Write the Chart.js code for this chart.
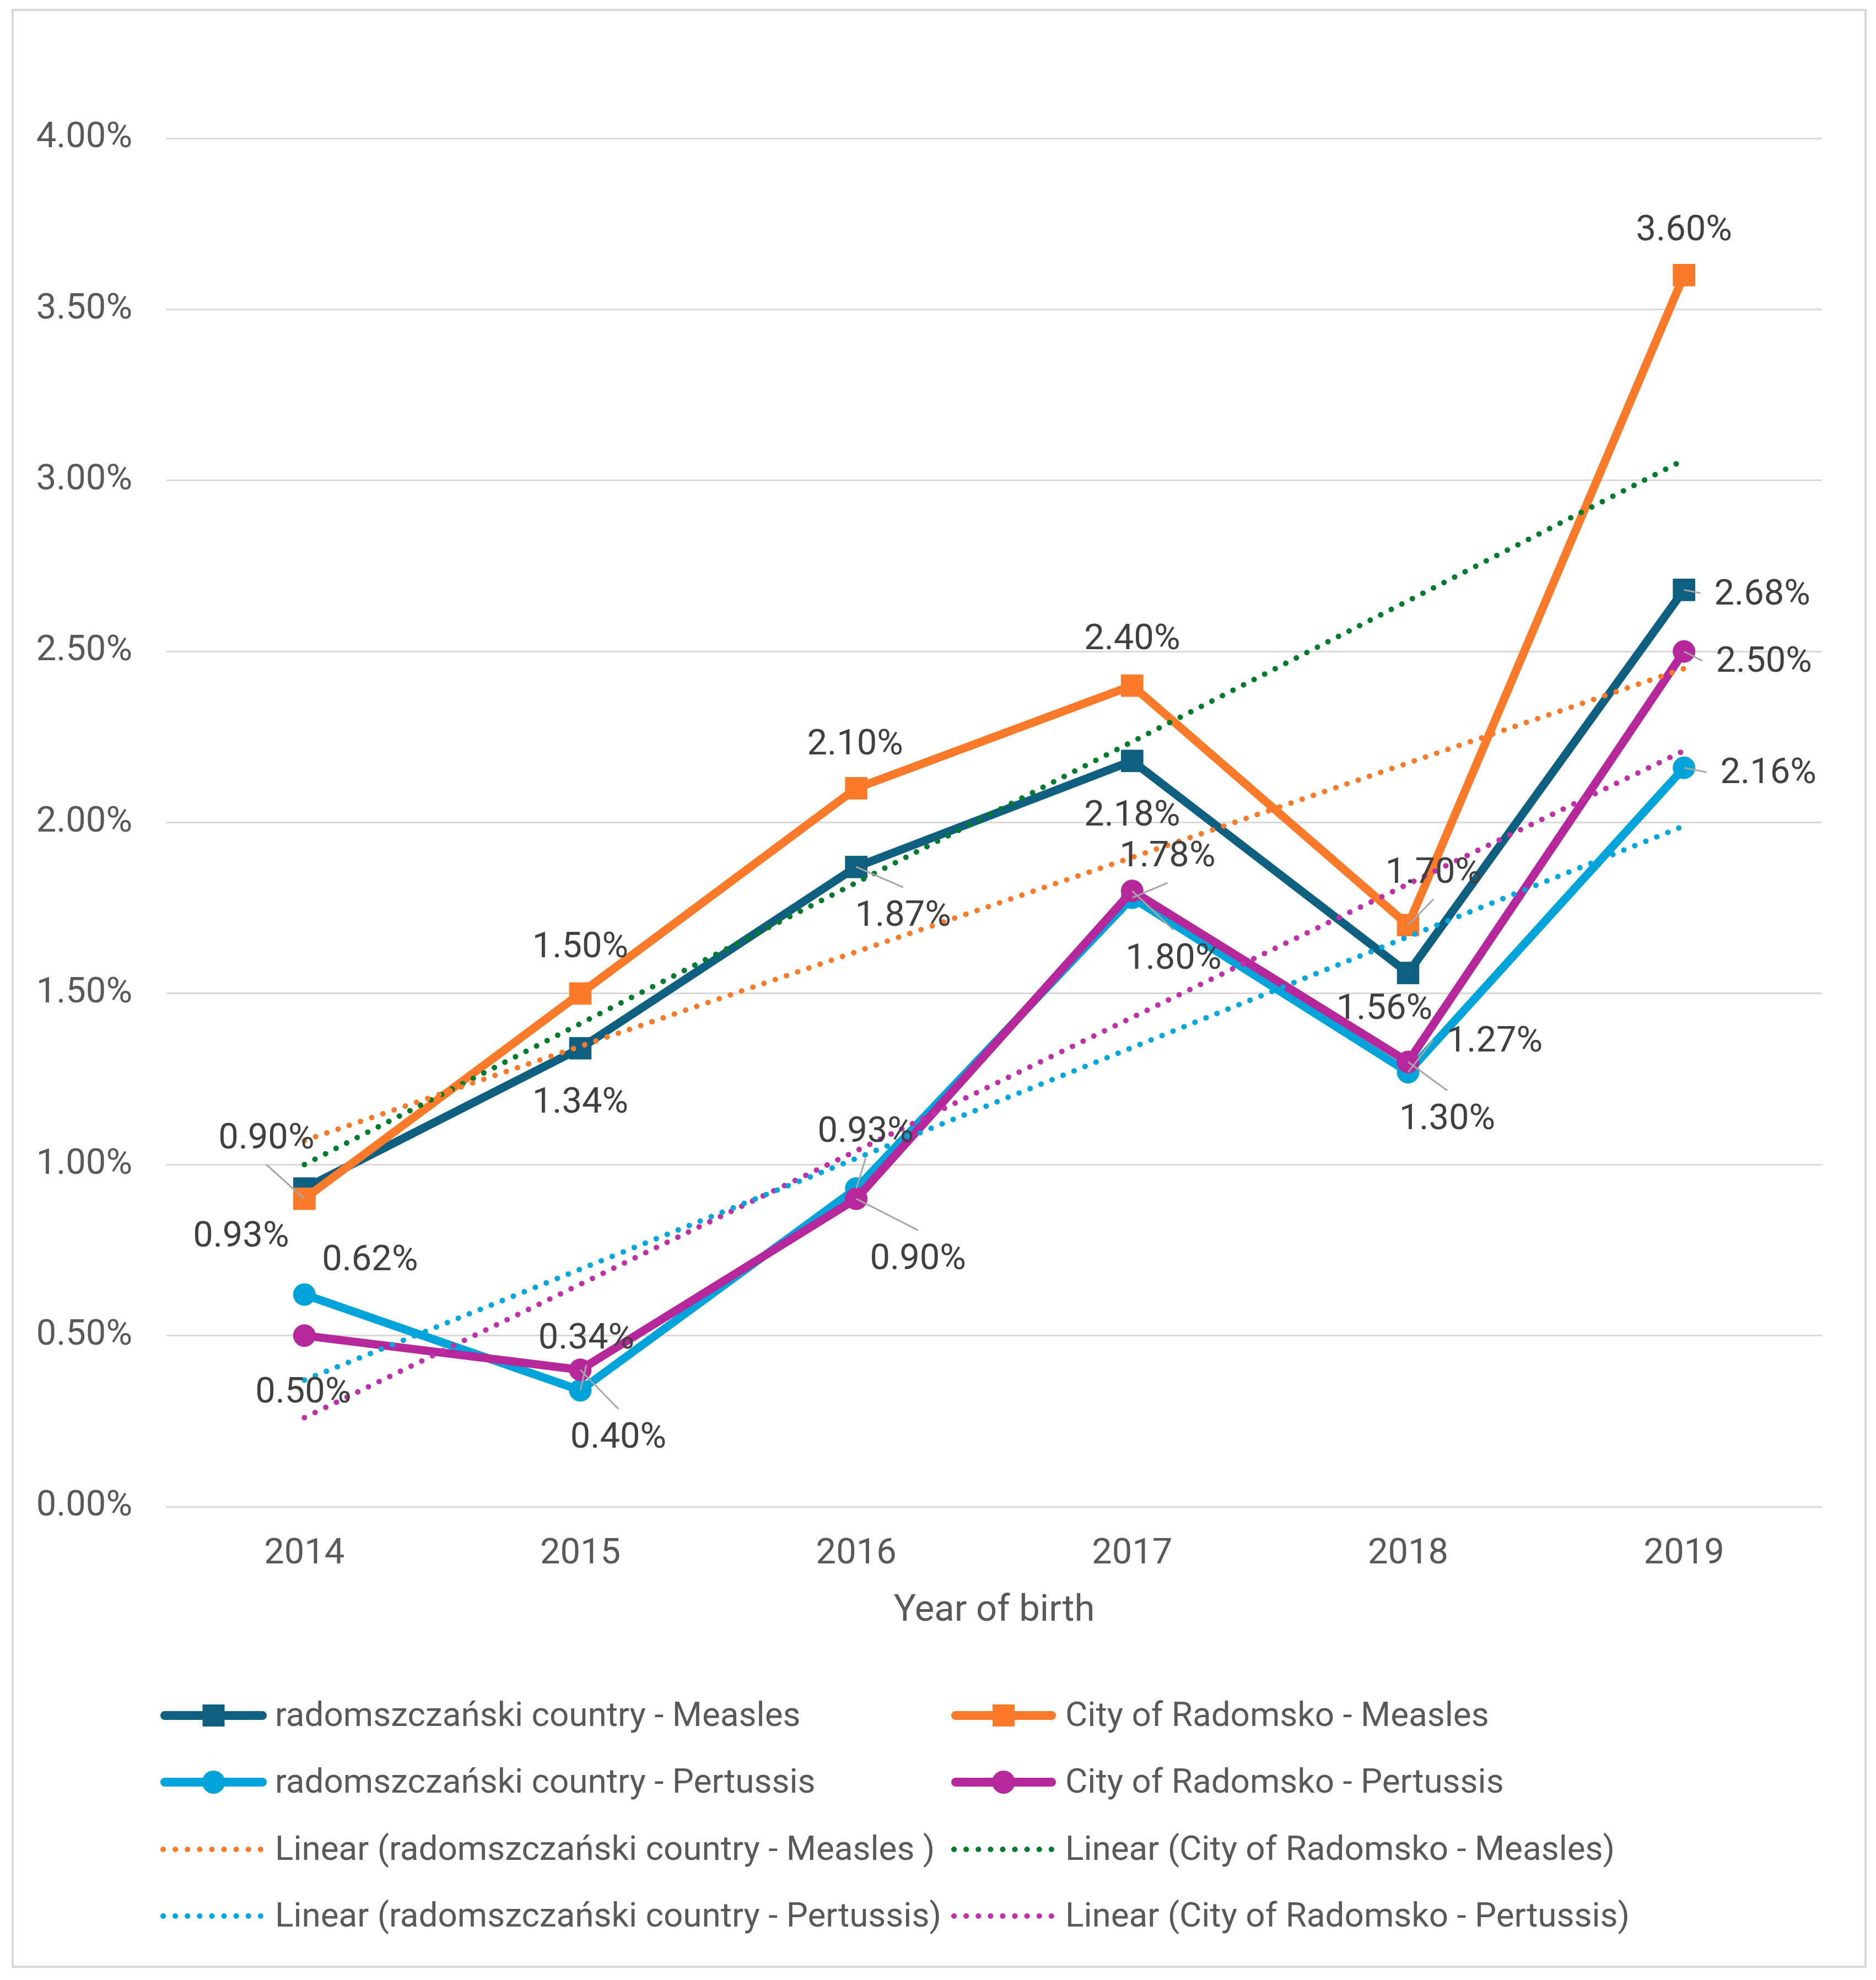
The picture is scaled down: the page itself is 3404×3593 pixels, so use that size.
<!DOCTYPE html>
<html>
<head>
<meta charset="utf-8">
<script src="https://cdn.jsdelivr.net/npm/chart.js@4.4.1/dist/chart.umd.min.js"></script>
<style>
html, body { margin: 0; padding: 0; background: #fff; }
#wrap { width: 3404px; height: 3593px; position: relative; }
</style>
</head>
<body>
<div id="wrap"><canvas id="lineChart"></canvas></div>
<script>
// Data
const years = ['2014', '2015', '2016', '2017', '2018', '2019'];
const radMeasles = [0.93, 1.34, 1.87, 2.18, 1.56, 2.68];
const cityMeasles = [0.90, 1.50, 2.10, 2.40, 1.70, 3.60];
const radPertussis = [0.62, 0.34, 0.93, 1.78, 1.27, 2.16];
const cityPertussis = [0.50, 0.40, 0.90, 1.80, 1.30, 2.50];
// trend lines: value at 2014 and at 2019
const trendRadMeasles = [1.07, 2.45];
const trendCityMeasles = [1.00, 3.06];
const trendRadPertussis = [0.37, 1.99];
const trendCityPertussis = [0.26, 2.21];
const yTicks = [0, 0.5, 1, 1.5, 2, 2.5, 3, 3.5, 4];

const names = [
    'radomszczański country - Measles',
    'City of Radomsko - Measles',
    'radomszczański country - Pertussis',
    'City of Radomsko - Pertussis',
    'Linear (radomszczański country - Measles )',
    'Linear (City of Radomsko - Measles)',
    'Linear (radomszczański country - Pertussis)',
    'Linear (City of Radomsko - Pertussis)'
];

// label placement per point: [dx, dy, leader side]
const labelOffsets = {
    [names[0]]: [[-115, 85, null], [0, 97, null], [85, 87, 'top'], [0, 97, null], [-43, 63, null], [142, 6, 'left']],
    [names[1]]: [[-69, -112, 'bottom'], [0, -86, null], [-2, -82, null], [0, -86, null], [46, -97, 'bottom'], [0, -84, null]],
    [names[2]]: [[119, -64, null], [11, -96, 'bottom'], [17, -105, 'bottom'], [64, -77, 'bottom'], [157, -58, 'left'], [153, 8, 'left']],
    [names[3]]: [[-2, 101, null], [69, 121, 'top'], [112, 107, 'top'], [75, 121, 'top'], [71, 102, 'top'], [145, 17, 'left']]
};

Chart.defaults.font.family = 'Roboto';

function mainSet(label, data, color, style, order) {
    return {
        label: label,
        data: data,
        borderColor: color,
        backgroundColor: color,
        borderWidth: 15,
        pointStyle: style,
        pointRadius: style === 'rect' ? 28 : 20,
        pointBorderWidth: 1,
        tension: 0,
        order: order
    };
}

function trendSet(label, ends, color) {
    return {
        label: label,
        data: [{ x: years[0], y: ends[0] }, { x: years[years.length - 1], y: ends[1] }],
        borderColor: color,
        backgroundColor: color,
        borderWidth: 10,
        borderDash: [0.1, 21.4],
        borderCapStyle: 'round',
        pointRadius: 0,
        order: 0,
        isTrend: true
    };
}

const frame = {
    id: 'frame',
    beforeDraw(chart) {
        const ctx = chart.ctx;
        ctx.save();
        ctx.fillStyle = '#fff';
        ctx.fillRect(0, 0, chart.width, chart.height);
        ctx.strokeStyle = '#d9d9d9';
        ctx.lineWidth = 4;
        ctx.strokeRect(23, 18, 3362, 3551);
        ctx.restore();
    }
};

const pointLabels = {
    id: 'pointLabels',
    afterDatasetsDraw(chart) {
        const ctx = chart.ctx;
        ctx.save();
        ctx.font = '65px Roboto';
        ctx.textAlign = 'center';
        ctx.textBaseline = 'middle';
        chart.data.datasets.forEach((ds, i) => {
            const offs = labelOffsets[ds.label];
            if (!offs) return;
            chart.getDatasetMeta(i).data.forEach((pt, j) => {
                const [dx, dy, side] = offs[j];
                const cx = pt.x + dx, cy = pt.y + dy;
                if (side) {
                    let ex = cx, ey = cy;
                    if (side === 'top') ey = cy - 50;
                    if (side === 'bottom') ey = cy + 50;
                    if (side === 'left') ex = cx - 112;
                    ctx.strokeStyle = '#a6a6a6';
                    ctx.lineWidth = 3;
                    ctx.beginPath();
                    ctx.moveTo(pt.x, pt.y);
                    ctx.lineTo(ex, ey);
                    ctx.stroke();
                }
                ctx.fillStyle = '#404040';
                ctx.fillText(ds.data[j].toFixed(2) + '%', cx, cy + 4);
            });
        });
        ctx.restore();
    }
};

const gridLegend = {
    id: 'gridLegend',
    afterDraw(chart) {
        const ctx = chart.ctx;
        const rows = [3113, 3234, 3356, 3477];
        const cols = [{ x0: 291, x1: 484, tx: 499 }, { x0: 1726, x1: 1916, tx: 1933 }];
        ctx.save();
        chart.data.datasets.forEach((ds, i) => {
            const y = rows[Math.floor(i / 2)];
            const c = cols[i % 2];
            ctx.strokeStyle = ds.borderColor;
            ctx.fillStyle = ds.borderColor;
            ctx.lineCap = 'round';
            if (ds.isTrend) {
                ctx.lineWidth = 10;
                ctx.setLineDash([0.1, 22]);
                ctx.beginPath();
                ctx.moveTo(c.x0 + 5, y);
                ctx.lineTo(c.x1 - 5, y);
                ctx.stroke();
                ctx.setLineDash([]);
            } else {
                ctx.lineWidth = 16;
                ctx.beginPath();
                ctx.moveTo(c.x0 + 8, y);
                ctx.lineTo(c.x1 - 8, y);
                ctx.stroke();
                const mx = (c.x0 + c.x1) / 2;
                if (ds.pointStyle === 'rect') {
                    ctx.fillRect(mx - 20, y - 20, 40, 40);
                } else {
                    ctx.beginPath();
                    ctx.arc(mx, y, 21, 0, Math.PI * 2);
                    ctx.fill();
                }
            }
            ctx.font = '62px Roboto';
            ctx.textAlign = 'left';
            ctx.textBaseline = 'middle';
            ctx.fillStyle = '#595959';
            ctx.fillText(ds.label, c.tx, y + 3);
        });
        ctx.restore();
    }
};

new Chart(document.getElementById('lineChart'), {
    type: 'line',
    data: {
        labels: years,
        datasets: [
            mainSet(names[0], radMeasles, '#0f5f81', 'rect', 4),
            mainSet(names[1], cityMeasles, '#fb7a2a', 'rect', 3),
            mainSet(names[2], radPertussis, '#00a3da', 'circle', 2),
            mainSet(names[3], cityPertussis, '#b5279b', 'circle', 1),
            trendSet(names[4], trendRadMeasles, '#fb7a2a'),
            trendSet(names[5], trendCityMeasles, '#007a2b'),
            trendSet(names[6], trendRadPertussis, '#00a6de'),
            trendSet(names[7], trendCityPertussis, '#c030a8')
        ]
    },
    options: {
        responsive: true,
        maintainAspectRatio: false,
        animation: false,
        layout: { padding: { top: 251, right: 98, bottom: 609, left: 0 } },
        scales: {
            x: {
                offset: true,
                grid: { display: false, drawTicks: false, offset: true },
                border: { display: false },
                ticks: { color: '#595959', font: { size: 65 }, padding: 48 },
                title: {
                    display: true,
                    text: 'Year of birth',
                    color: '#595959',
                    font: { size: 67 },
                    padding: { top: 0, bottom: 20 }
                },
                afterFit(scale) { scale.height = 250; }
            },
            y: {
                min: 0,
                max: 4,
                grid: { color: '#d9d9d9', lineWidth: 3, drawTicks: false },
                border: { display: false },
                ticks: {
                    color: '#595959',
                    font: { size: 65 },
                    padding: 62,
                    callback: v => v.toFixed(2) + '%'
                },
                afterBuildTicks(scale) { scale.ticks = yTicks.map(v => ({ value: v })); },
                afterFit(scale) { scale.width = 302; }
            }
        },
        plugins: {
            legend: { display: false },
            tooltip: { enabled: false }
        }
    },
    plugins: [frame, pointLabels, gridLegend]
});
</script>
</body>
</html>
